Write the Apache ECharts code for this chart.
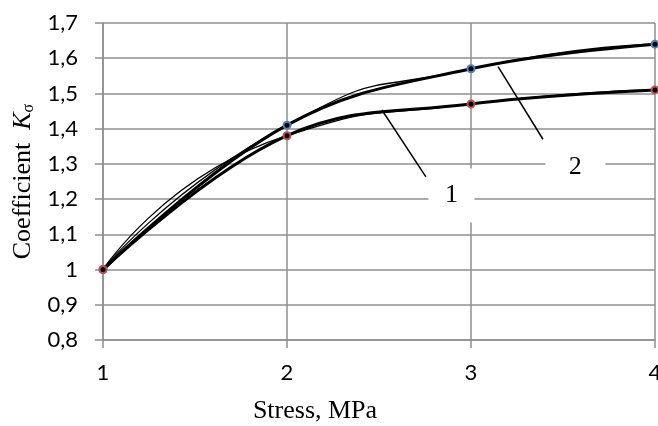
<!DOCTYPE html>
<html>
<head>
<meta charset="utf-8">
<script src="https://cdn.jsdelivr.net/npm/echarts@6/dist/echarts.min.js"></script>
<style>
html, body { margin: 0; padding: 0; background: #fff; }
#chart { width: 658px; height: 426px; }
</style>
</head>
<body>
<div id="chart"></div>
<script>
// stress, MPa
const stress = [1, 2, 3, 4];
// curve 2 (upper, blue markers) and curve 1 (lower, red markers)
const curve2 = [1.0, 1.41, 1.57, 1.64];
const curve1 = [1.0, 1.38, 1.47, 1.51];
const yTicks = [0.8, 1.7, 0.1];   // min, max, step
const xTicks = [1, 4, 1];

// callouts in data coords: leader start, leader end, label pos
const call1 = { from: [2.516, 1.453], to: [2.755, 1.263], at: [2.91, 1.21], text: '1' };
const call2 = { from: [3.147, 1.576], to: [3.391, 1.37], at: [3.54, 1.29], text: '2' };

const gray = '#8f8f8f';
const serif = 'Liberation Serif';

function pairs(xs, ys) {
    return xs.map((x, i) => [x, ys[i]]);
}

function mainLine(name, data, markColor, extra) {
    return Object.assign({
        name: name,
        type: 'line',
        data: data,
        smooth: 0.4,
        symbol: 'circle',
        symbolSize: 7,
        lineStyle: { color: '#000', width: 3 },
        itemStyle: { color: '#000', borderColor: markColor, borderWidth: 2 },
        z: 3
    }, extra || {});
}

function ghostLine(data, smooth) {
    return {
        type: 'line',
        data: data,
        smooth: smooth,
        symbol: 'none',
        lineStyle: { color: '#000', width: 1.3 },
        z: 2,
        silent: true
    };
}

function callout(c) {
    return {
        markLine: {
            silent: true,
            symbol: 'none',
            label: { show: false },
            lineStyle: { color: '#000', width: 1.5, type: 'solid' },
            data: [[{ coord: c.from }, { coord: c.to }]]
        },
        markPoint: {
            silent: true,
            symbol: 'rect',
            symbolSize: c.text === '1' ? [46, 54] : [60, 56],
            symbolOffset: c.text === '1' ? [-3, 0] : [5, 0],
            itemStyle: { color: '#fff' },
            label: {
                show: true,
                formatter: c.text,
                color: '#000',
                fontFamily: serif,
                fontSize: 26
            },
            data: [{ coord: c.at }]
        }
    };
}

const chart = echarts.init(document.getElementById('chart'), null, { renderer: 'canvas' });

const option = {
    backgroundColor: '#fff',
    animation: false,
    grid: { left: 103, right: 3, top: 23, bottom: 86, outerBoundsMode: 'none' },
    xAxis: {
        type: 'value',
        min: xTicks[0],
        max: xTicks[1],
        interval: xTicks[2],
        name: 'Stress, MPa',
        nameLocation: 'middle',
        nameGap: 58,
        nameTextStyle: {
            fontFamily: serif,
            fontSize: 26,
            color: '#000',
            padding: [0, 128, 0, 0]
        },
        axisLine: { show: true, lineStyle: { color: gray, width: 1.5 } },
        axisTick: { show: true, length: 8, lineStyle: { color: gray, width: 1.5 } },
        splitLine: { show: true, lineStyle: { color: gray, width: 1.5 } },
        axisLabel: {
            margin: 22,
            fontFamily: 'Lato',
            fontSize: 22,
            color: '#000'
        }
    },
    yAxis: {
        type: 'value',
        min: yTicks[0],
        max: yTicks[1],
        interval: yTicks[2],
        name: '{a|Coefficient  }{k|K}{s|σ}',
        nameLocation: 'middle',
        nameGap: 66,
        nameTextStyle: {
            rich: {
                a: { fontFamily: serif, fontSize: 26, color: '#000' },
                k: { fontFamily: serif, fontSize: 26, fontStyle: 'italic', color: '#000' },
                s: { fontFamily: serif, fontSize: 16, color: '#000', padding: [10, 0, 0, 0] }
            }
        },
        axisLine: { show: true, lineStyle: { color: gray, width: 1.5 } },
        axisTick: { show: true, length: 8, lineStyle: { color: gray, width: 1.5 } },
        splitLine: { show: true, lineStyle: { color: gray, width: 1.5 } },
        axisLabel: {
            margin: 25,
            fontFamily: 'Lato',
            fontSize: 22,
            color: '#000',
            formatter: v => String(Math.round(v * 10) / 10).replace('.', ',')
        }
    },
    series: [
        ghostLine(pairs(stress, curve2), 0.6),
        ghostLine(pairs(stress, curve1), 0.6),
        mainLine('2', pairs(stress, curve2), '#4f81bd', callout(call2)),
        mainLine('1', pairs(stress, curve1), '#c0504d', callout(call1))
    ]
};

chart.setOption(option);
</script>
</body>
</html>
